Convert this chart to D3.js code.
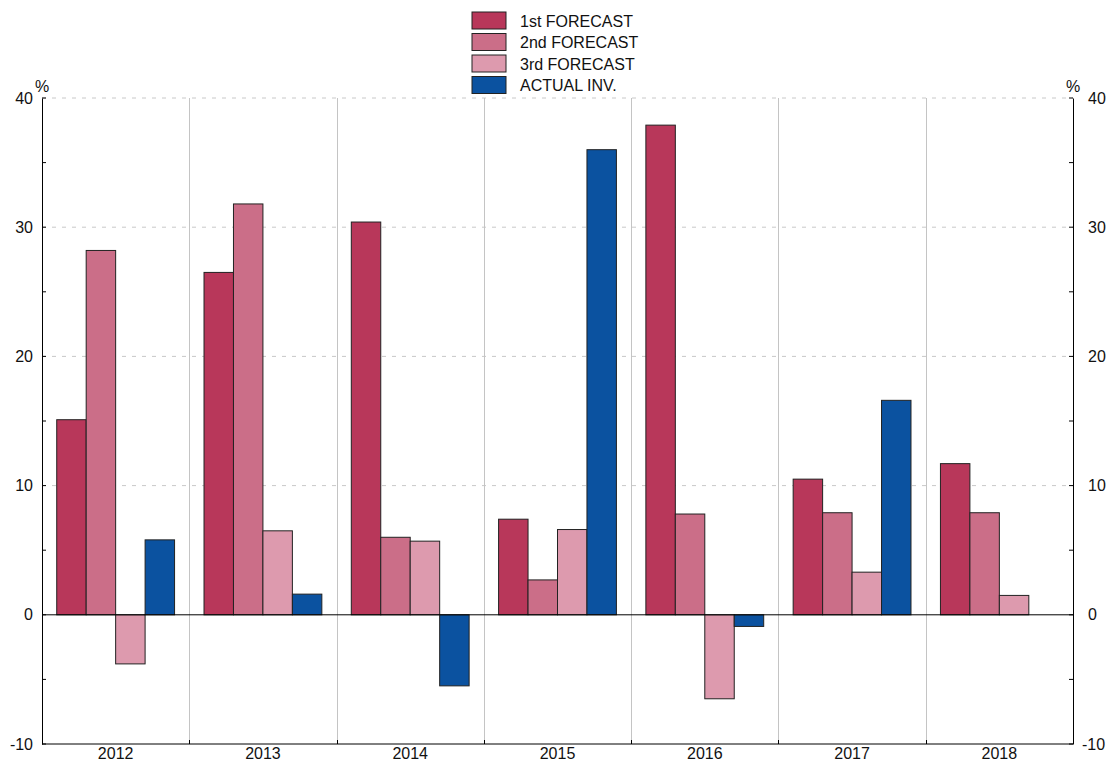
<!doctype html>
<html lang="en">
<head>
<meta charset="utf-8">
<title>Forecasts vs actual investment</title>
<style>
  body { margin: 0; background: #fff; }
  svg { display: block; font-family: "Liberation Sans", Arial, sans-serif; }
  .lbl { font-size: 16px; fill: #111; }
</style>
</head>
<body>
<svg id="chart" width="1113" height="765"></svg>
<script src="https://cdn.jsdelivr.net/npm/d3@7"></script>
<script>
const years = ["2012", "2013", "2014", "2015", "2016", "2017", "2018"];
const seriesNames = ["1st FORECAST", "2nd FORECAST", "3rd FORECAST", "ACTUAL INV."];
const seriesColors = ["#b8375a", "#cb6e88", "#dd9aae", "#0b52a0"];
const first = [15.1, 26.5, 30.4, 7.4, 37.9, 10.5, 11.7];
const second = [28.2, 31.8, 6.0, 2.7, 7.8, 7.9, 7.9];
const third = [-3.8, 6.5, 5.7, 6.6, -6.5, 3.3, 1.5];
const actual = [5.8, 1.6, -5.5, 36.0, -0.9, 16.6, null];
const majorTicks = [-10, 0, 10, 20, 30, 40];
const minorTicks = [-5, 5, 15, 25, 35];

const series = [first, second, third, actual];
const pLeft = 42, pRight = 1073, pTop = 98, pBottom = 744;
const fmt = d => String(d);

const svg = d3.select("#chart");
const x = d3.scaleBand().domain(years).range([pLeft, pRight]).paddingInner(0).paddingOuter(0);
const xi = d3.scaleBand().domain(d3.range(4)).range([0, x.bandwidth()]).paddingInner(0).paddingOuter(0.5);
const y = d3.scaleLinear().domain([-10, 40]).range([pBottom, pTop]);

// dashed grid
svg.append("g").selectAll("line").data(majorTicks.filter(d => d > 0)).enter().append("line")
  .attr("x1", pLeft).attr("x2", pRight).attr("y1", d => y(d)).attr("y2", d => y(d))
  .attr("stroke", "#c8c8c8").attr("stroke-dasharray", "4,6").attr("stroke-width", 1);

// category separators
svg.append("g").selectAll("line").data(years.slice(1)).enter().append("line")
  .attr("x1", d => Math.round(x(d)) + 0.5).attr("x2", d => Math.round(x(d)) + 0.5)
  .attr("y1", pTop).attr("y2", pBottom)
  .attr("stroke", "#c4c4c4").attr("stroke-width", 1);

// bars
const bars = [];
years.forEach((yr, i) => series.forEach((s, k) => { if (s[i] != null) bars.push({ yr, k, v: s[i] }); }));
svg.append("g").selectAll("rect").data(bars).enter().append("rect")
  .attr("x", d => x(d.yr) + xi(d.k))
  .attr("width", xi.bandwidth())
  .attr("y", d => y(Math.max(0, d.v)))
  .attr("height", d => Math.abs(y(d.v) - y(0)))
  .attr("fill", d => seriesColors[d.k])
  .attr("stroke", "#222").attr("stroke-width", 1);

// zero line
svg.append("line").attr("x1", pLeft).attr("x2", pRight).attr("y1", y(0)).attr("y2", y(0))
  .attr("stroke", "#000").attr("stroke-width", 1);

// left axis
const yl = svg.append("g").attr("transform", `translate(${pLeft},0)`)
  .call(d3.axisLeft(y).tickValues(majorTicks).tickSize(0).tickPadding(9).tickFormat(fmt));
yl.select(".domain").attr("stroke", "#000");
yl.selectAll("text").attr("class", "lbl").attr("font-size", 16).attr("font-family", null);
svg.append("g").selectAll("line").data(majorTicks.concat(minorTicks)).enter().append("line")
  .attr("x1", pLeft).attr("x2", pLeft + 4).attr("y1", d => y(d)).attr("y2", d => y(d)).attr("stroke", "#000");

// right axis
const yrAxis = svg.append("g").attr("transform", `translate(${pRight},0)`)
  .call(d3.axisRight(y).tickValues(majorTicks).tickSize(0).tickPadding(15).tickFormat(fmt));
yrAxis.select(".domain").attr("stroke", "#000");
yrAxis.selectAll("text").attr("class", "lbl").attr("font-size", 16).attr("font-family", null)
  .attr("x", d => d < 0 ? 9 : 15);
svg.append("g").selectAll("line").data(majorTicks.concat(minorTicks)).enter().append("line")
  .attr("x1", pRight - 4).attr("x2", pRight).attr("y1", d => y(d)).attr("y2", d => y(d)).attr("stroke", "#000");

// % units
svg.append("text").attr("class", "lbl").attr("x", pLeft).attr("y", pTop - 6).attr("text-anchor", "middle").attr("font-size", 14).text("%");
svg.append("text").attr("class", "lbl").attr("x", pRight).attr("y", pTop - 6).attr("text-anchor", "middle").attr("font-size", 14).text("%");

// bottom axis
const xa = svg.append("g").attr("transform", `translate(0,${pBottom})`)
  .call(d3.axisBottom(x).tickSize(0).tickPadding(4));
xa.select(".domain").attr("stroke", "#000").attr("d", `M${pLeft},0H${pRight}`);
xa.selectAll("text").attr("class", "lbl").attr("font-size", 16).attr("font-family", null);
svg.append("g").selectAll("line").data(years.slice(1)).enter().append("line")
  .attr("x1", d => Math.round(x(d)) + 0.5).attr("x2", d => Math.round(x(d)) + 0.5)
  .attr("y1", pBottom).attr("y2", pBottom - 4).attr("stroke", "#000");

// legend
const lg = svg.append("g").attr("transform", "translate(472,12)");
const row = lg.selectAll("g").data(seriesNames).enter().append("g")
  .attr("transform", (d, i) => `translate(0,${i * 21.5})`);
row.append("rect").attr("width", 34).attr("height", 17)
  .attr("fill", (d, i) => seriesColors[i]).attr("stroke", "#222");
row.append("text").attr("class", "lbl").attr("x", 48).attr("y", 14.5).text(d => d);
</script>
</body>
</html>
